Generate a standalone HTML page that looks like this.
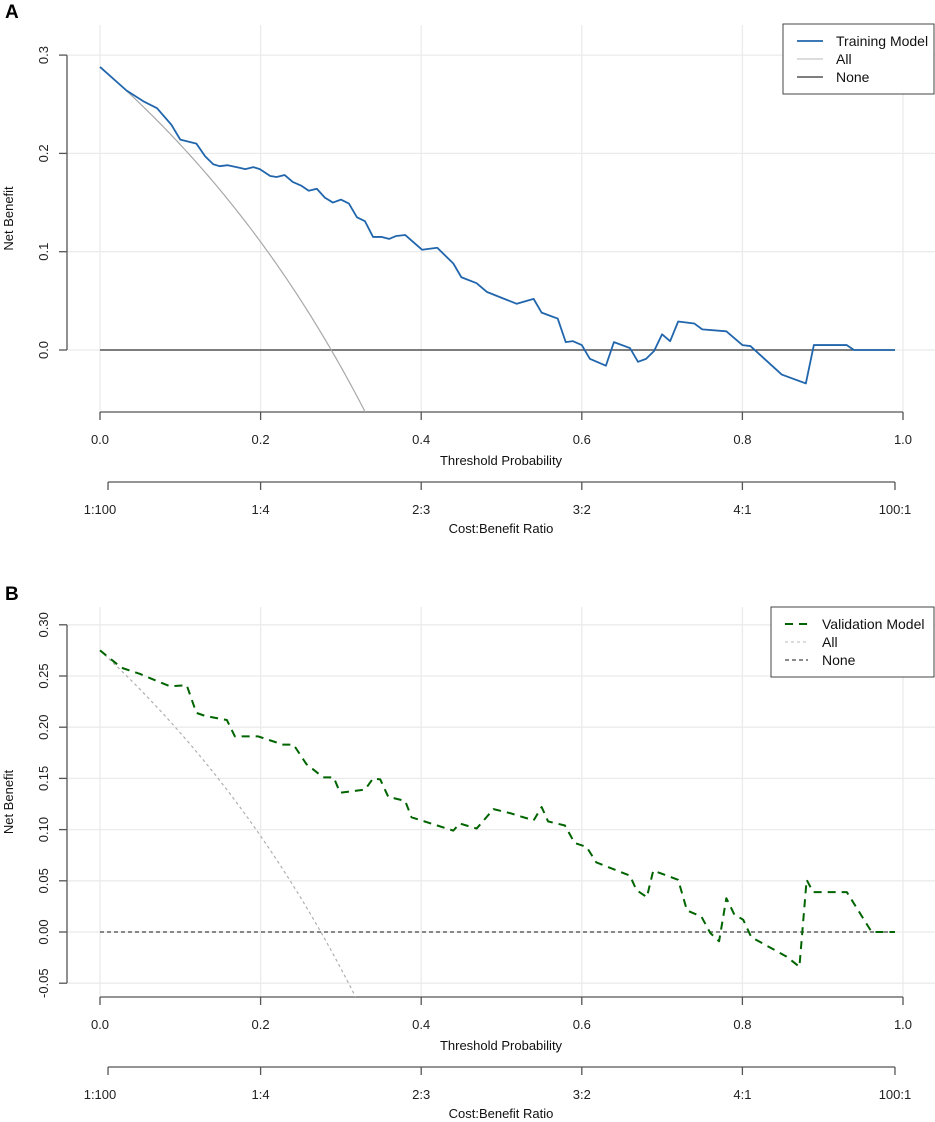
<!DOCTYPE html>
<html><head><meta charset="utf-8"><style>
html,body{margin:0;padding:0;background:#fff;}
svg{display:block;font-family:"Liberation Sans",Arial,sans-serif;}
</style></head><body>
<svg id="fig" width="935" height="1122" viewBox="0 0 935 1122" xmlns="http://www.w3.org/2000/svg"></svg>
<script>
// ---- Panel A data ----
const thrA = [0,0.033,0.054,0.071,0.089,0.1,0.12,0.131,0.141,0.149,0.159,0.17,0.181,0.191,0.199,0.212,0.22,0.23,0.24,0.251,0.26,0.27,0.28,0.29,0.3,0.31,0.32,0.33,0.34,0.351,0.36,0.369,0.38,0.401,0.42,0.44,0.45,0.469,0.482,0.519,0.54,0.55,0.56,0.57,0.58,0.589,0.6,0.61,0.63,0.64,0.66,0.67,0.68,0.69,0.7,0.71,0.72,0.74,0.75,0.78,0.8,0.81,0.849,0.879,0.889,0.93,0.939,0.99];
const nbA = [0.288,0.264,0.253,0.246,0.229,0.214,0.21,0.197,0.189,0.187,0.188,0.186,0.184,0.186,0.184,0.177,0.176,0.178,0.171,0.167,0.162,0.164,0.155,0.15,0.153,0.149,0.135,0.131,0.115,0.115,0.113,0.116,0.117,0.102,0.104,0.088,0.074,0.068,0.059,0.047,0.052,0.038,0.035,0.032,0.008,0.009,0.005,-0.009,-0.016,0.008,0.002,-0.012,-0.009,-0.001,0.016,0.009,0.029,0.027,0.021,0.019,0.005,0.004,-0.025,-0.034,0.005,0.005,0,0];
const prevA = 0.288;
const yTicksA = [0,0.1,0.2,0.3];
const yLabelsA = ["0.0","0.1","0.2","0.3"];
// ---- Panel B data ----
const thrB = [0,0.027,0.05,0.062,0.087,0.108,0.12,0.131,0.158,0.168,0.197,0.228,0.241,0.257,0.278,0.291,0.299,0.33,0.34,0.349,0.359,0.38,0.388,0.44,0.448,0.469,0.49,0.511,0.54,0.55,0.558,0.579,0.591,0.606,0.618,0.66,0.668,0.681,0.689,0.72,0.731,0.749,0.76,0.771,0.78,0.79,0.801,0.811,0.855,0.871,0.88,0.888,0.93,0.961,0.99];
const nbB = [0.275,0.258,0.252,0.248,0.24,0.241,0.214,0.211,0.207,0.191,0.191,0.183,0.183,0.164,0.151,0.151,0.136,0.139,0.15,0.149,0.132,0.128,0.112,0.099,0.106,0.101,0.12,0.116,0.109,0.122,0.108,0.104,0.087,0.083,0.068,0.055,0.041,0.034,0.06,0.051,0.021,0.015,-0.001,-0.009,0.033,0.017,0.012,-0.005,-0.024,-0.034,0.051,0.039,0.039,0,0];
const prevB = 0.275;
const yTicksB = [-0.05,0,0.05,0.1,0.15,0.2,0.25,0.3];
const yLabelsB = ["-0.05","0.00","0.05","0.10","0.15","0.20","0.25","0.30"];
// ---- shared axes ----
const xTicks = [0,0.2,0.4,0.6,0.8,1.0];
const xLabels = ["0.0","0.2","0.4","0.6","0.8","1.0"];
const cbTicks = [0.01,0.2,0.4,0.6,0.8,0.99];
const cbLabels = ["1:100","1:4","2:3","3:2","4:1","100:1"];

const NS="http://www.w3.org/2000/svg";
const svg=document.getElementById('fig');
function el(tag,attrs,parent,text){const e=document.createElementNS(NS,tag);for(const k in attrs)e.setAttribute(k,attrs[k]);if(text!==undefined)e.textContent=text;(parent||svg).appendChild(e);return e;}
const X=t=>100+803*t;

function panel(cfg){
  const g=el('g',{});
  
  
  const Y=v=>cfg.y0-cfg.k*v;
  const clipId=cfg.name+'-clip';
  const cp=el('clipPath',{id:clipId},g);
  el('rect',{x:68,y:cfg.top,width:867,height:cfg.axisY-cfg.top},cp);
  // panel letter
  const L=el('text',{x:5,y:cfg.top-7,'font-size':19,'font-weight':'bold',fill:'#000'},g,cfg.letter);
  
  
  // grid
  const grid=el('g',{stroke:'#ebebeb','stroke-width':1.3},g);
  
  
  xTicks.forEach(t=>el('line',{x1:X(t),x2:X(t),y1:cfg.top,y2:cfg.axisY},grid));
  cfg.yTicks.forEach(v=>el('line',{x1:68,x2:935,y1:Y(v),y2:Y(v)},grid));
  // y axis
  const ya=el('g',{stroke:'#555','stroke-width':1.3},g);
  
  
  el('line',{x1:67,x2:67,y1:Y(cfg.yTicks[0]),y2:Y(cfg.yTicks[cfg.yTicks.length-1])},ya);
  cfg.yTicks.forEach((v,i)=>{
    el('line',{x1:59,x2:67,y1:Y(v),y2:Y(v)},ya);
    const t=el('text',{x:0,y:0,'font-size':13,fill:'#222',stroke:'none','text-anchor':'middle',transform:`translate(48,${Y(v)}) rotate(-90)`},g,cfg.yLabels[i]);
    
    
  });
  const yt=el('text',{'font-size':13,fill:'#111','text-anchor':'middle',transform:`translate(13,${(cfg.top+cfg.axisY)/2}) rotate(-90)`},g,'Net Benefit');
  
  
  // x axis
  const xa=el('g',{stroke:'#555','stroke-width':1.3},g);
  
  
  el('line',{x1:X(0),x2:X(1),y1:cfg.axisY,y2:cfg.axisY},xa);
  xTicks.forEach((t,i)=>{
    el('line',{x1:X(t),x2:X(t),y1:cfg.axisY,y2:cfg.axisY+8},xa);
    const tx=el('text',{x:X(t),y:cfg.axisY+32,'font-size':13,fill:'#222',stroke:'none','text-anchor':'middle'},g,xLabels[i]);
    
    
  });
  const xt=el('text',{x:501,y:cfg.axisY+53,'font-size':13,fill:'#111','text-anchor':'middle'},g,'Threshold Probability');
  
  
  // cost-benefit axis
  const cb=el('g',{stroke:'#555','stroke-width':1.3},g);
  
  
  const cy=cfg.axisY+70;
  el('line',{x1:X(cbTicks[0]),x2:X(cbTicks[cbTicks.length-1]),y1:cy,y2:cy},cb);
  cbTicks.forEach((t,i)=>{
    el('line',{x1:X(t),x2:X(t),y1:cy,y2:cy+8},cb);
    const tx=el('text',{x:X(i===0?0:t),y:cy+32,'font-size':13,fill:'#222',stroke:'none','text-anchor':'middle'},g,cbLabels[i]);
    
    
  });
  const ct=el('text',{x:501,y:cy+51,'font-size':13,fill:'#111','text-anchor':'middle'},g,'Cost:Benefit Ratio');
  
  
  // series
  const sg=el('g',{'clip-path':`url(#${clipId})`,fill:'none'},g);
  // none
  const none=el('line',{x1:X(0),x2:X(0.99),y1:Y(0),y2:Y(0),stroke:cfg.noneColor,'stroke-width':1.3,'stroke-dasharray':cfg.noneDash},sg);
  
  
  // all
  let pts=[];
  for(let i=0;i<=200;i++){const t=i*0.4/200;pts.push(X(t)+','+Y(cfg.prev-(1-cfg.prev)*t/(1-t)));}
  const all=el('polyline',{points:pts.join(' '),stroke:cfg.allColor,'stroke-width':1.2,'stroke-dasharray':cfg.allDash},sg);
  
  
  // model
  const mp=cfg.thr.map((t,i)=>X(t)+','+Y(cfg.nb[i])).join(' ');
  const m=el('polyline',{points:mp,stroke:cfg.color,'stroke-width':cfg.mw,'stroke-dasharray':cfg.mDash,'stroke-linejoin':'round'},sg);
  
  
  // legend
  const lg=el('g',{},g);
  
  
  const lx=cfg.legX, ly=cfg.legY;
  el('rect',{x:lx,y:ly,width:934-lx,height:70,fill:'#fff',stroke:'#444','stroke-width':1},lg);
  const items=[[cfg.label,cfg.color,cfg.mw,cfg.mDash],['All',cfg.allLegColor,1.3,cfg.allDash],['None',cfg.noneColor,1.3,cfg.noneDash]];
  items.forEach((it,i)=>{
    const yy=ly+17+i*18;
    const e=el('g',{},lg);
    
    
    el('line',{x1:lx+14,x2:lx+cfg.legLine,y1:yy,y2:yy,stroke:it[1],'stroke-width':it[2],'stroke-dasharray':it[3]},e);
    el('text',{x:lx+cfg.legText,y:yy+5,'font-size':14,fill:'#111'},e,it[0]);
  });
}
panel({name:'panel-a',letter:'A',top:25,axisY:412,y0:350,k:983,yTicks:yTicksA,yLabels:yLabelsA,thr:thrA,nb:nbA,prev:prevA,
  color:'#2166ac',mw:1.8,mDash:'none',allColor:'#a8a8a8',allLegColor:'#c8c8c8',allDash:'none',noneColor:'#333',noneDash:'none',
  label:'Training Model',legX:783,legY:24,legLine:40,legText:53});
panel({name:'panel-b',letter:'B',top:607,axisY:997,y0:932,k:1024,yTicks:yTicksB,yLabels:yLabelsB,thr:thrB,nb:nbB,prev:prevB,
  color:'#006400',mw:2,mDash:'8,6',allColor:'#b0b0b0',allLegColor:'#c8c8c8',allDash:'3,3',noneColor:'#444',noneDash:'4,3',
  label:'Validation Model',legX:771,legY:607,legLine:37,legText:51});
</script>
</body></html>
